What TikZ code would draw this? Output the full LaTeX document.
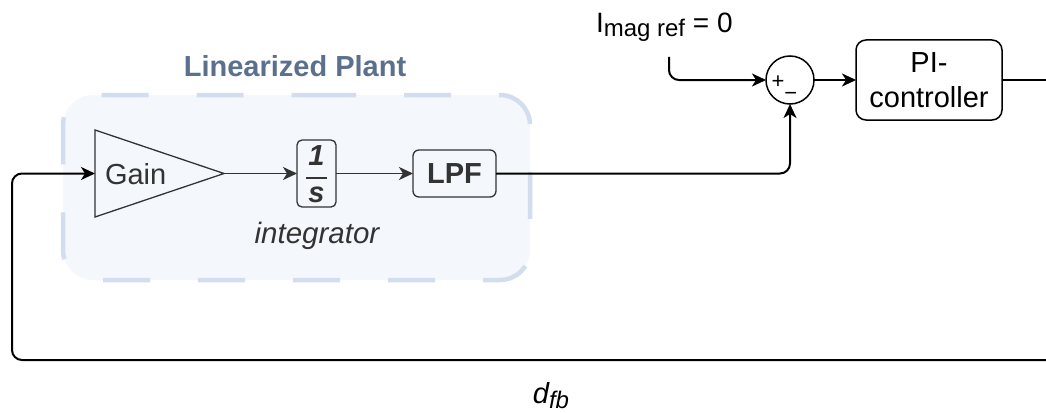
\documentclass[tikz,border=0pt]{standalone}
\usepackage{fontspec}
\setmainfont{Liberation Sans}
\usetikzlibrary{arrows.meta,calc}
\definecolor{plantfill}{RGB}{244,247,252}
\definecolor{plantdash}{RGB}{210,221,237}
\definecolor{planttitle}{RGB}{91,112,141}
\definecolor{innergray}{RGB}{51,51,51}
\begin{document}
\begin{tikzpicture}[x=1pt,y=-1pt,
  every node/.style={font=\fontsize{29}{35}\selectfont, inner sep=0pt, outer sep=0pt},
  blk/.style={draw=innergray, rounded corners=6pt, line width=1.3pt, text=innergray},
  arr/.style={-{Stealth[length=14pt,width=13pt,inset=4pt]}, line width=2pt},
  innerarr/.style={arr, draw=innergray, line width=1.9pt},
  container/.style={draw=plantdash, fill=plantfill, line width=4.5pt,
    dash pattern=on 47pt off 48pt, rounded corners=30pt},
]
\useasboundingbox (0,0) rectangle (1046,412);

% container
\draw[container] (279,95) -- (530,95) -- (530,280) -- (63,280) -- (63,95) -- cycle;
\node[anchor=base, font=\fontsize{29}{35}\selectfont\bfseries, text=planttitle] (title) at (295,77) {Linearized Plant};

% gain triangle
\coordinate (gainin) at (95,173.5);
\coordinate (gainout) at (224,173.5);
\draw[innergray, line width=1.3pt] (95,130) -- (gainout) -- (95,217) -- cycle;
\node[anchor=base west, text=innergray] (gain) at (105,184) {Gain};

% integrator
\node[blk, minimum width=39pt, minimum height=67pt, rounded corners=5pt] (integ) at (316.5,173.5) {};
\node[anchor=base, text=innergray, font=\fontsize{29}{35}\selectfont\bfseries\itshape] (one) at (316.5,165) {1};
\node[anchor=base, text=innergray, font=\fontsize{29}{35}\selectfont\bfseries\itshape] (ess) at (316.5,202) {s};
\draw[innergray, line width=1.3pt] ($(integ.center)+(-10.5,4.5)$) -- ($(integ.center)+(10.5,4.5)$);
\node[anchor=base, text=innergray, font=\fontsize{29.5}{35}\selectfont\itshape] (integlbl) at (317,243) {integrator};

% LPF
\node[blk, minimum width=83pt, minimum height=47pt, font=\fontsize{29}{35}\selectfont\bfseries] (lpf) at (454.5,173.5) {LPF};

% summing junction
\node[draw, circle, line width=1.5pt, minimum size=48pt] (sum) at (790,80) {};
\node[anchor=base west, font=\fontsize{22}{26}\selectfont] (signs) at (771.5,88.3) {+\raisebox{-12pt}{\symbol{"2212}}};

% PI controller
\node[draw, rounded corners=10pt, line width=1.5pt, minimum width=146pt, minimum height=80pt, align=center] (pi) at (929,80) {PI-\\controller};

% reference label
\node[anchor=base west, font=\fontsize{28}{34}\selectfont] (ref) at (596,33) {I\raisebox{-4pt}{\fontsize{24}{28}\selectfont mag ref} = 0};
\coordinate (refstart) at (669,57);

% d_fb label
\node[anchor=base, font=\fontsize{29}{35}\selectfont\itshape] (dfb) at (551,403) {d\raisebox{-5pt}{\fontsize{24}{28}\selectfont fb}};

% free ends at the right border
\coordinate (piout) at (1046,80);
\coordinate (fbstart) at (1046,360);

% connectors
\draw[innerarr] (gainout) -- (integ.west);
\draw[innerarr] (integ.east) -- (lpf.west);
\draw[arr, rounded corners=10pt] (lpf.east) -| (sum.south);
\draw[arr, rounded corners=10pt] (refstart) |- (sum.west);
\draw[arr] (sum.east) -- (pi.west);
\draw[line width=2pt] (pi.east) -- (piout);
\draw[arr, rounded corners=10pt] (fbstart) -- (12,360) -- (12,173.5) -- (gainin);
\end{tikzpicture}
\end{document}
